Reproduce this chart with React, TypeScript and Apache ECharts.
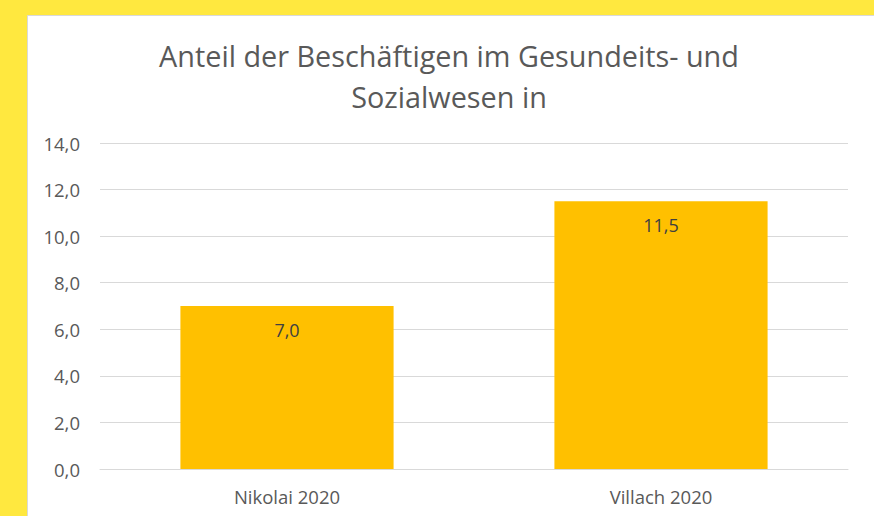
import React, { useEffect, useRef } from "react";
import * as echarts from "echarts";

const categories = ["Nikolai 2020", "Villach 2020"];
const values = [7.0, 11.5];
const titleLines = ["Anteil der Beschäftigen im Gesundeits- und", "Sozialwesen in"];
const yMin = 0;
const yMax = 14;
const yInterval = 2;

const fmt = (v: number) => v.toFixed(1).replace(".", ",");
const FONT = "'Open Sans', sans-serif";

export default function App() {
  const ref = useRef<HTMLDivElement>(null);
  useEffect(() => {
    if (!ref.current) return;
    const chart = echarts.init(ref.current, undefined, { renderer: "svg" });
    chart.setOption({
      animation: false,
      backgroundColor: "#FFE83F",
      graphic: [
        {
          type: "rect",
          z: -10,
          shape: { x: 27.5, y: 15.5, width: 900, height: 600 },
          style: { fill: "#FFFFFF", stroke: "#D9D9D9", lineWidth: 1 },
          silent: true,
        },
        {
          type: "text",
          x: 449,
          y: 55,
          style: {
            text: titleLines[0],
            fill: "#595959",
            font: `28.8px ${FONT}`,
            align: "center",
            verticalAlign: "middle",
          },
        },
        {
          type: "text",
          x: 449,
          y: 96,
          style: {
            text: titleLines[1],
            fill: "#595959",
            font: `28.8px ${FONT}`,
            align: "center",
            verticalAlign: "middle",
          },
        },
      ],
      grid: { left: 100, right: 26, top: 143, bottom: 47, containLabel: false },
      xAxis: {
        type: "category",
        data: categories,
        axisLine: { show: true, lineStyle: { color: "#D9D9D9", width: 1 } },
        axisTick: { show: false },
        axisLabel: { color: "#595959", fontSize: 18.5, fontFamily: FONT, margin: 18 },
      },
      yAxis: {
        type: "value",
        min: yMin,
        max: yMax,
        interval: yInterval,
        axisLine: { show: false },
        axisTick: { show: false },
        splitLine: { lineStyle: { color: "#D9D9D9", width: 1 } },
        axisLabel: {
          color: "#595959",
          fontSize: 18.5,
          fontFamily: FONT,
          margin: 20,
          formatter: (v: number) => fmt(v),
        },
      },
      series: [
        {
          type: "bar",
          data: values,
          barWidth: "57%",
          itemStyle: { color: "#FFC000" },
          label: {
            show: true,
            position: "insideTop",
            distance: 15,
            color: "#404040",
            fontSize: 18,
            fontFamily: FONT,
            formatter: (p: any) => fmt(p.value),
          },
        },
      ],
    });
    return () => chart.dispose();
  }, []);
  return (
    <div
      ref={ref}
      style={{ position: "fixed", left: 0, top: 0, width: 874, height: 516 }}
    />
  );
}
